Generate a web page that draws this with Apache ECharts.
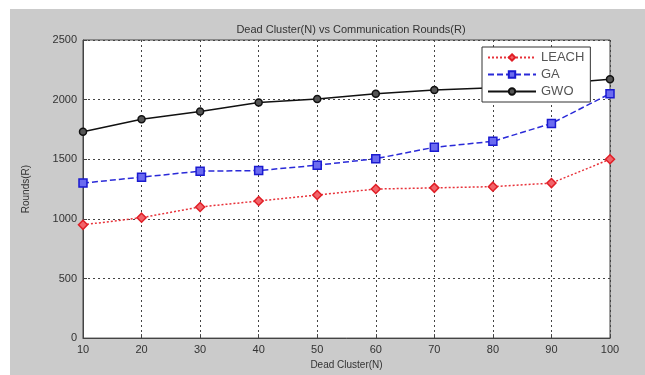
<!DOCTYPE html>
<html>
<head>
<meta charset="utf-8">
<script src="https://cdn.jsdelivr.net/npm/echarts@6/dist/echarts.min.js"></script>
<style>
  html, body { margin: 0; padding: 0; background: #fff; }
  #chart { width: 645px; height: 375px; }
</style>
</head>
<body>
<div id="chart"></div>
<script>
const deadCluster = [10, 20, 30, 40, 50, 60, 70, 80, 90, 100];
const leach = [950, 1010, 1100, 1150, 1200, 1250, 1260, 1270, 1300, 1500];
const ga = [1300, 1350, 1400, 1405, 1450, 1505, 1600, 1650, 1800, 2050];
const gwo = [1730, 1835, 1900, 1975, 2005, 2050, 2080, 2100, 2130, 2170];

const pairs = (vals) => deadCluster.map((x, i) => [x, vals[i]]);

const chart = echarts.init(document.getElementById("chart"));

const option = {
    backgroundColor: "#fff",
    animation: false,
    graphic: [
        {
            type: "rect",
            z: -10,
            shape: { x: 10, y: 9, width: 640, height: 370 },
            style: { fill: "#cbcbcb" },
        },
    ],
    title: {
        text: "Dead Cluster(N) vs Communication Rounds(R)",
        left: 346,
        textAlign: "center",
        top: 19,
        textStyle: {
            fontFamily: "Liberation Sans",
            fontSize: 11,
            fontWeight: "normal",
            color: "#333",
        },
    },
    legend: {
        left: 482,
        top: 47,
        orient: "vertical",
        itemWidth: 48,
        itemHeight: 8,
        itemGap: 4,
        padding: [4, 6, 4, 5],
        backgroundColor: "#fff",
        borderColor: "#333",
        borderWidth: 1,
        textStyle: {
            fontFamily: "Liberation Sans",
            fontSize: 13,
            color: "#555",
        },
        data: ["LEACH", "GA", "GWO"],
    },
    grid: {
        left: 83,
        right: 35,
        top: 40,
        bottom: 29,
        show: true,
        backgroundColor: "#fff",
        borderColor: "#444",
        borderWidth: 1,
    },
    xAxis: {
        type: "value",
        min: 10,
        max: 100,
        interval: 10,
        name: "Dead Cluster(N)",
        nameLocation: "middle",
        nameGap: 20,
        nameTextStyle: { fontFamily: "Liberation Sans", fontSize: 10, color: "#333" },
        axisLine: { lineStyle: { color: "#444" } },
        axisTick: { inside: true, length: 4, lineStyle: { color: "#444" } },
        axisLabel: { fontFamily: "Liberation Sans", fontSize: 11, color: "#333", margin: 6 },
        splitLine: { lineStyle: { color: "#444", type: [2, 3], width: 1 } },
    },
    yAxis: {
        type: "value",
        min: 0,
        max: 2500,
        interval: 500,
        name: "Rounds(R)",
        nameLocation: "middle",
        nameGap: 52,
        nameTextStyle: { fontFamily: "Liberation Sans", fontSize: 10, color: "#333" },
        axisLine: { show: true, lineStyle: { color: "#444" } },
        axisTick: { show: true, inside: true, length: 4, lineStyle: { color: "#444" } },
        axisLabel: {
            fontFamily: "Liberation Sans",
            fontSize: 11,
            color: "#333",
            margin: 6,
            formatter: (v) => String(v),
        },
        splitLine: { lineStyle: { color: "#444", type: [2, 3], width: 1 } },
    },
    series: [
        {
            name: "LEACH",
            type: "line",
            data: pairs(leach),
            symbol: "diamond",
            symbolSize: 9,
            itemStyle: { color: "#f2646a", borderColor: "#e01e26", borderWidth: 1.5 },
            lineStyle: { color: "#e8323a", type: [2, 2], width: 1.5 },
            z: 3,
        },
        {
            name: "GA",
            type: "line",
            data: pairs(ga),
            symbol: "rect",
            symbolSize: 8,
            itemStyle: { color: "#6b6bf0", borderColor: "#1a1ad0", borderWidth: 1.5 },
            lineStyle: { color: "#2a2ad8", type: [6, 3], width: 1.5 },
            z: 3,
        },
        {
            name: "GWO",
            type: "line",
            data: pairs(gwo),
            symbol: "circle",
            symbolSize: 7,
            itemStyle: { color: "#555", borderColor: "#111", borderWidth: 1.5 },
            lineStyle: { color: "#111", width: 1.5 },
            z: 2,
        },
    ],
};

chart.setOption(option);
</script>
</body>
</html>
